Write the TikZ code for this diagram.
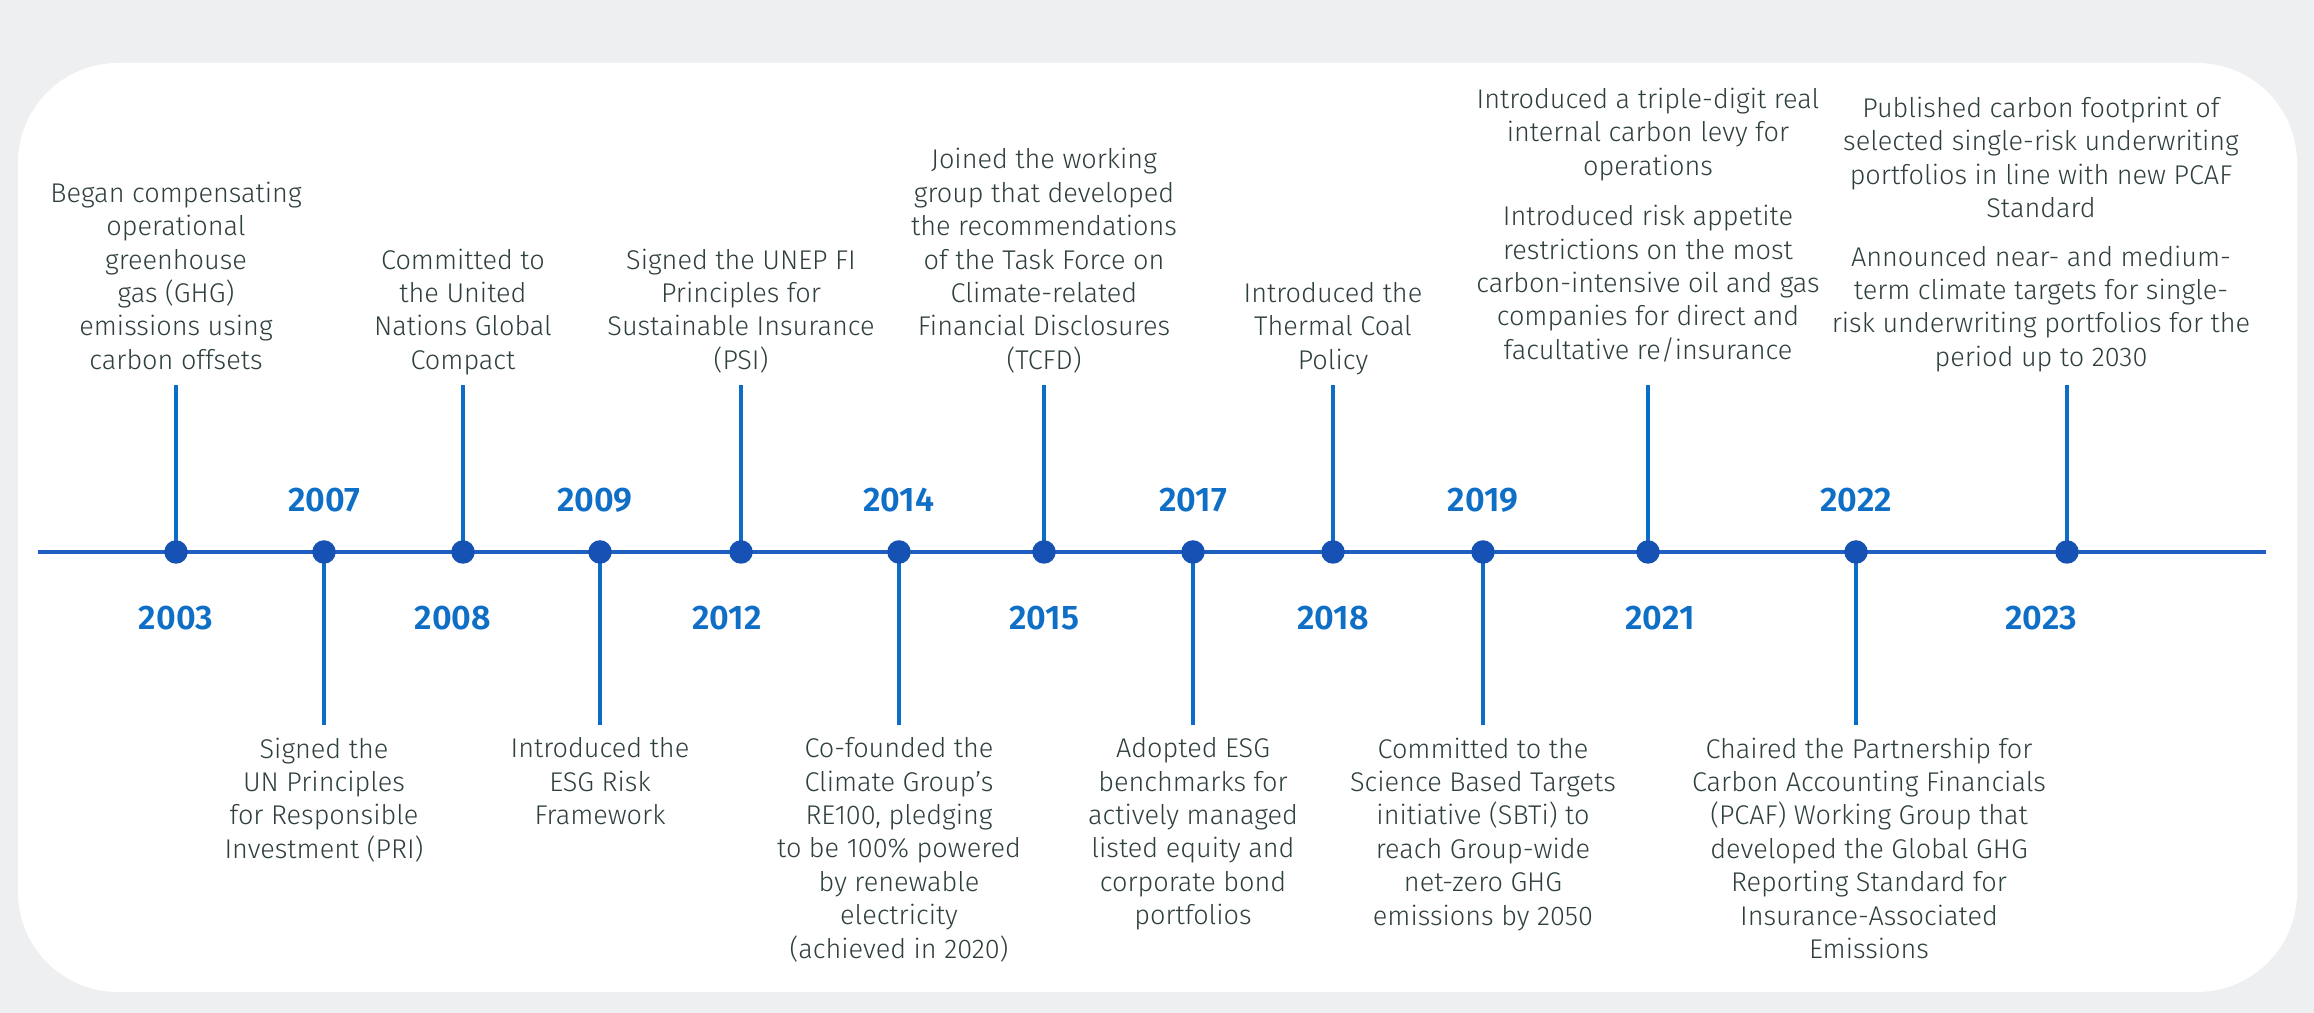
\documentclass[tikz,border=0pt]{standalone}
\usepackage{fontspec}
\setmainfont{Fira Sans Light}
\newfontfamily\yearfont{Fira Sans SemiBold}
\usepackage{tikz}
\usetikzlibrary{positioning}

\definecolor{bggrey}{HTML}{EEEFF1}
\definecolor{dotblue}{HTML}{1552B4}
\definecolor{lineblue}{HTML}{1F5FC2}
\definecolor{stemblue}{HTML}{0C6DC8}
\definecolor{yearblue}{HTML}{0F6EC6}
\definecolor{textgrey}{HTML}{2F3E3E}

\begin{document}
\begin{tikzpicture}[x=0.1mm, y=0.1mm, node distance=0.5mm,
			dot/.style={circle,fill=dotblue,inner sep=0pt,minimum size=2.35mm},
			stem/.style={stemblue,line width=0.4mm},
			year/.style={font=\yearfont\fontsize{9.7}{11}\selectfont,text=yearblue,inner sep=0pt},
			event/.style={font=\fontsize{7.7}{9.5}\selectfont,text=textgrey,align=center,inner sep=0pt,
				execute at begin node=\strut,execute at end node=\strut}]
			
			% panel
			\fill[bggrey] (0,0) rectangle (2314,1013);
			\fill[white,rounded corners=1cm] (18,21) rectangle (2297,950);
			
			% positions on the time line
			\coordinate (p03) at (176,461);
			\coordinate (p07) at (324,461);
			\coordinate (p08) at (463,461);
			\coordinate (p09) at (600,461);
			\coordinate (p12) at (741,461);
			\coordinate (p14) at (899,461);
			\coordinate (p15) at (1044,461);
			\coordinate (p17) at (1193,461);
			\coordinate (p18) at (1333,461);
			\coordinate (p19) at (1483,461);
			\coordinate (p21) at (1648,461);
			\coordinate (p22) at (1856,461);
			\coordinate (p23) at (2067,461);
			\coordinate (ls) at (38,461);
			\coordinate (le) at (2266,461);
			
			% stem ends
			\coordinate[above=16.7mm of p03] (s03);
			\coordinate[above=16.7mm of p08] (s08);
			\coordinate[above=16.7mm of p12] (s12);
			\coordinate[above=16.7mm of p15] (s15);
			\coordinate[above=16.7mm of p18] (s18);
			\coordinate[above=16.7mm of p21] (s21);
			\coordinate[above=16.7mm of p23] (s23);
			\coordinate[below=17.3mm of p07] (s07);
			\coordinate[below=17.3mm of p09] (s09);
			\coordinate[below=17.3mm of p14] (s14);
			\coordinate[below=17.3mm of p17] (s17);
			\coordinate[below=17.3mm of p19] (s19);
			\coordinate[below=17.3mm of p22] (s22);
			
			\draw[lineblue,line width=0.33mm] (ls) -- (le);
			\foreach \e in {03,07,08,09,12,14,15,17,18,19,21,22,23}
			\draw[stem] (p\e) -- (s\e);
			
			% dots
			\node[dot] (d03) at (p03) {};
			\node[dot] (d07) at (p07) {};
			\node[dot] (d08) at (p08) {};
			\node[dot] (d09) at (p09) {};
			\node[dot] (d12) at (p12) {};
			\node[dot] (d14) at (p14) {};
			\node[dot] (d15) at (p15) {};
			\node[dot] (d17) at (p17) {};
			\node[dot] (d18) at (p18) {};
			\node[dot] (d19) at (p19) {};
			\node[dot] (d21) at (p21) {};
			\node[dot] (d22) at (p22) {};
			\node[dot] (d23) at (p23) {};
			
			% years
			\node[year] (y03) at ([yshift=-6.6mm]d03) {2003};
			\node[year] (y07) at ([yshift=5.2mm]d07) {2007};
			\node[year] (y08) at ([xshift=-1mm,yshift=-6.6mm]d08) {2008};
			\node[year] (y09) at ([xshift=-0.5mm,yshift=5.2mm]d09) {2009};
			\node[year] (y12) at ([xshift=-1.4mm,yshift=-6.6mm]d12) {2012};
			\node[year] (y14) at ([yshift=5.2mm]d14) {2014};
			\node[year] (y15) at ([yshift=-6.6mm]d15) {2015};
			\node[year] (y17) at ([yshift=5.2mm]d17) {2017};
			\node[year] (y18) at ([yshift=-6.6mm]d18) {2018};
			\node[year] (y19) at ([yshift=5.2mm]d19) {2019};
			\node[year] (y21) at ([xshift=1.2mm,yshift=-6.6mm]d21) {2021};
			\node[year] (y22) at ([yshift=5.2mm]d22) {2022};
			\node[year] (y23) at ([xshift=-2.6mm,yshift=-6.6mm]d23) {2023};
			
			% events above the line
			\node[event] (t03) [above=of s03] {Began compensating\\operational\\greenhouse\\gas (GHG)\\emissions using\\carbon offsets};
			\node[event] (t08) [above=of s08] {Committed to\\the United\\Nations Global\\Compact};
			\node[event] (t12) [above=of s12] {Signed the UNEP FI\\Principles for\\Sustainable Insurance\\(PSI)};
			\node[event] (t15) [above=of s15] {Joined the working\\group that developed\\the recommendations\\of the Task Force on\\Climate-related\\Financial Disclosures\\(TCFD)};
			\node[event] (t18) [above=of s18] {Introduced the\\Thermal Coal\\Policy};
			\node[event] (t21) [above=1.5mm of s21] {Introduced a triple-digit real\\internal carbon levy for\\operations\\[1.7mm]Introduced risk appetite\\restrictions on the most\\carbon-intensive oil and gas\\companies for direct and\\facultative re/insurance};
			\node[event] (t23) [above=0.8mm of s23,xshift=-2.6mm] {Published carbon footprint of\\selected single-risk underwriting\\portfolios in line with new PCAF\\Standard\\[1.5mm]Announced near- and medium-\\term climate targets for single-\\risk underwriting portfolios for the\\period up to 2030};
			
			% events below the line
			\node[event] (t07) [below=1.2mm of s07] {Signed the\\UN Principles\\for Responsible\\Investment (PRI)};
			\node[event] (t09) [below=1.2mm of s09] {Introduced the\\ESG Risk\\Framework};
			\node[event] (t14) [below=1.2mm of s14] {Co-founded the\\Climate Group’s\\RE100, pledging\\to be 100\% powered\\by renewable\\electricity\\(achieved in 2020)};
			\node[event] (t17) [below=1.2mm of s17] {Adopted ESG\\benchmarks for\\actively managed\\listed equity and\\corporate bond\\portfolios};
			\node[event] (t19) [below=1.2mm of s19] {Committed to the\\Science Based Targets\\initiative (SBTi) to\\reach Group-wide\\net-zero GHG\\emissions by 2050};
			\node[event] (t22) [below=1.2mm of s22,xshift=1.3mm] {Chaired the Partnership for\\Carbon Accounting Financials\\(PCAF) Working Group that\\developed the Global GHG\\Reporting Standard for\\Insurance-Associated\\Emissions};
\end{tikzpicture}
\end{document}
